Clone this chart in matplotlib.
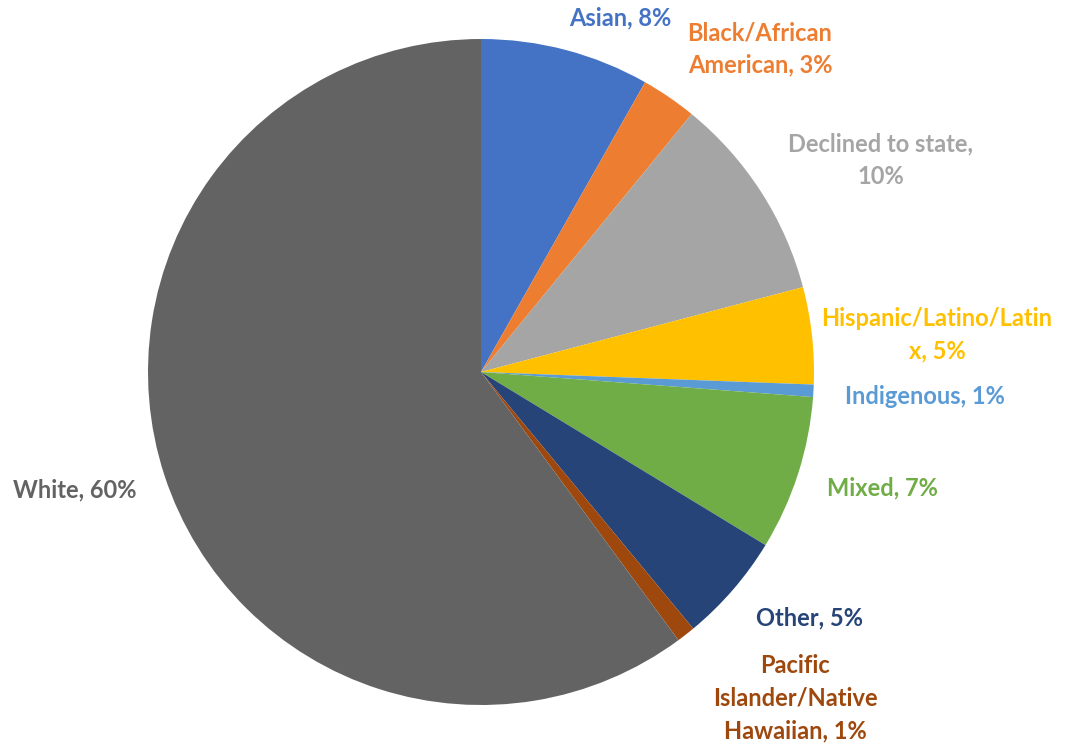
import matplotlib
matplotlib.use("Agg")
from matplotlib import pyplot as plt

# slice data, clockwise from 12 o'clock
groups = ["Asian", "Black/African American", "Declined to state",
          "Hispanic/Latino/Latinx", "Indigenous", "Mixed", "Other",
          "Pacific Islander/Native Hawaiian", "White"]
shares = [8.2, 2.7, 10.0, 4.7, 0.6, 7.5, 5.3, 0.9, 60.1]
labels = ["Asian, 8%", "Black/African\nAmerican, 3%", "Declined to state,\n10%",
          "Hispanic/Latino/Latin\nx, 5%", "Indigenous, 1%", "Mixed, 7%",
          "Other, 5%", "Pacific\nIslander/Native\nHawaiian, 1%", "White, 60%"]
colors = ["#4472C4", "#ED7D31", "#A5A5A5", "#FFC000", "#5B9BD5",
          "#70AD47", "#264478", "#9E480E", "#636363"]

W, H = 1066, 748
cx, cy, r = 481, 372, 333  # pie centre / radius in pixels

fig = plt.figure(figsize=(W / 100, H / 100), dpi=100)
ax = fig.add_axes([0, 0, 1, 1])
ax.pie(shares, colors=colors, startangle=90, counterclock=False,
       radius=1, wedgeprops=dict(linewidth=0))
ax.set_aspect("auto")
ax.set_xlim(-cx / r, (W - cx) / r)
ax.set_ylim(-(H - cy) / r, cy / r)
ax.axis("off")

# label anchor points (pixels, measured from top-left)
label_pos = [(620, 18), (760, 49), (881, 160), (937, 335), (925, 396),
             (882, 488), (810, 618), (795, 698), (75, 490)]
for txt, col, (px, py) in zip(labels, colors, label_pos):
    ax.text((px - cx) / r, (cy - py) / r, txt, color=col, fontsize=17,
            fontweight="bold", family=["Lato", "DejaVu Sans"],
            ha="center", va="center", linespacing=1.5)

fig.savefig("out.png", dpi=100)
